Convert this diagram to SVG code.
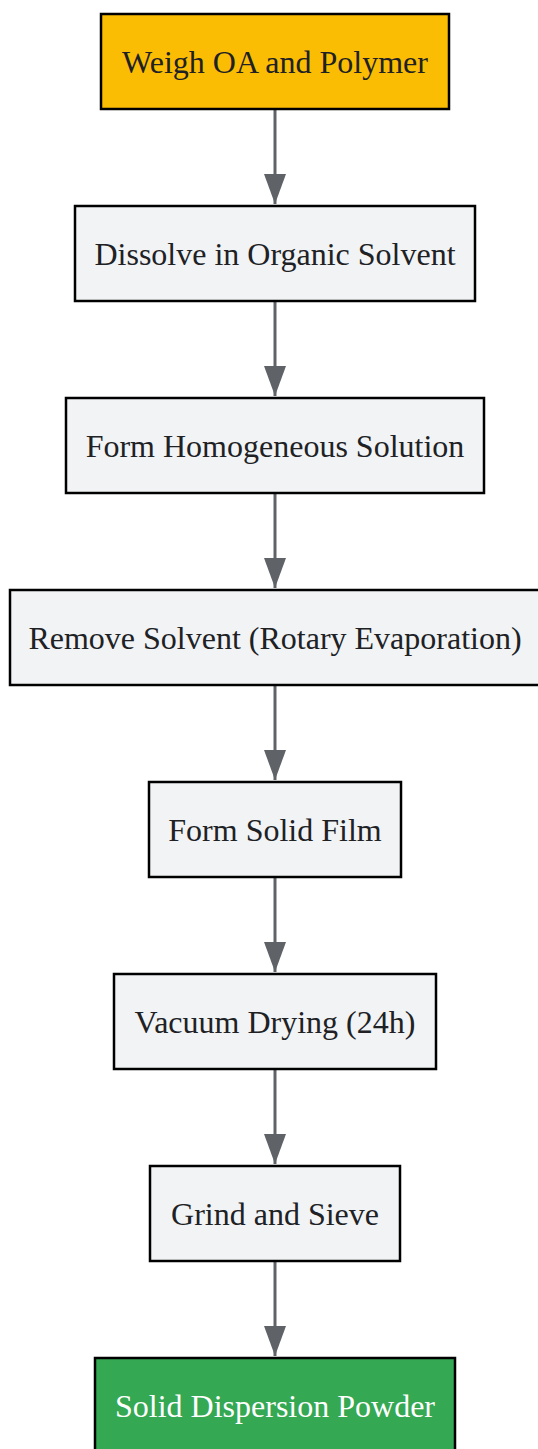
<svg xmlns="http://www.w3.org/2000/svg" width="538" height="1449" viewBox="0 0 538 1449">
<style>
.n rect{fill:#F1F3F4;stroke:#000;stroke-width:2.5}
.n text{font-family:"Liberation Serif",serif;font-size:32px;fill:#202124;text-anchor:middle}
#n1 rect{fill:#FBBC04}
#n8 rect{fill:#34A853}
#n8 text{fill:#fff}
.e line{stroke:#5F6368;stroke-width:3}
</style>
<defs>
<marker id="ah" markerUnits="userSpaceOnUse" markerWidth="30" markerHeight="22" refX="30" refY="11" orient="auto" viewBox="0 0 30 22">
<path d="M0,0 L30,11 L0,22 Z" fill="#5F6368"/>
</marker>
</defs>
<rect width="538" height="1449" fill="#fff"/>
<g class="e">
<line x1="275" y1="109" x2="275" y2="204" marker-end="url(#ah)"/>
<line x1="275" y1="301" x2="275" y2="396" marker-end="url(#ah)"/>
<line x1="275" y1="493" x2="275" y2="588" marker-end="url(#ah)"/>
<line x1="275" y1="685" x2="275" y2="780" marker-end="url(#ah)"/>
<line x1="275" y1="877" x2="275" y2="972" marker-end="url(#ah)"/>
<line x1="275" y1="1069" x2="275" y2="1164" marker-end="url(#ah)"/>
<line x1="275" y1="1261" x2="275" y2="1356" marker-end="url(#ah)"/>
</g>
<g class="n" id="n1"><rect x="101" y="14" width="348" height="95"/><text x="275" y="73">Weigh OA and Polymer</text></g>
<g class="n" id="n2"><rect x="75" y="206" width="400" height="95"/><text x="275" y="265">Dissolve in Organic Solvent</text></g>
<g class="n" id="n3"><rect x="66" y="398" width="418" height="95"/><text x="275" y="457">Form Homogeneous Solution</text></g>
<g class="n" id="n4"><rect x="10" y="590" width="532" height="95"/><text x="275" y="649">Remove Solvent (Rotary Evaporation)</text></g>
<g class="n" id="n5"><rect x="149" y="782" width="252" height="95"/><text x="275" y="841">Form Solid Film</text></g>
<g class="n" id="n6"><rect x="114" y="974" width="322" height="95"/><text x="275" y="1033">Vacuum Drying (24h)</text></g>
<g class="n" id="n7"><rect x="150" y="1166" width="250" height="95"/><text x="275" y="1225">Grind and Sieve</text></g>
<g class="n" id="n8"><rect x="95" y="1358" width="360" height="95"/><text x="275" y="1417">Solid Dispersion Powder</text></g>
</svg>
